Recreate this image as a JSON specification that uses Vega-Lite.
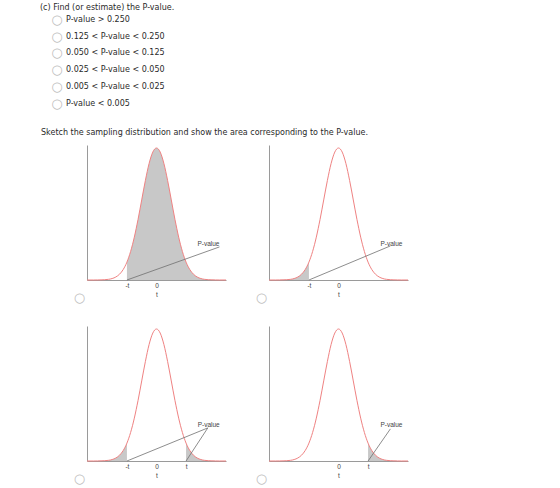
{
  "$schema": "https://vega.github.io/schema/vega-lite/v6.json",
  "background": "white",
  "padding": {"left": 40, "top": 0, "right": 5, "bottom": 0},
  "config": {"view": {"stroke": null}},
  "datasets": {
    "options": [
      {"kind": "question", "indent": 0, "line": 0.28, "text": "(c) Find (or estimate) the P-value."},
      {"kind": "option", "indent": 1, "line": 1, "text": "P-value > 0.250"},
      {"kind": "option", "indent": 1, "line": 2, "text": "0.125 < P-value < 0.250"},
      {"kind": "option", "indent": 1, "line": 3, "text": "0.050 < P-value < 0.125"},
      {"kind": "option", "indent": 1, "line": 4, "text": "0.025 < P-value < 0.050"},
      {"kind": "option", "indent": 1, "line": 5, "text": "0.005 < P-value < 0.025"},
      {"kind": "option", "indent": 1, "line": 6, "text": "P-value < 0.005"},
      {"kind": "instruction", "indent": 0.04, "line": 7.78, "text": "Sketch the sampling distribution and show the area corresponding to the P-value."}
    ],
    "curve": [
      {"z": -4.7, "density": 0.0000}, {"z": -4.5, "density": 0.0000}, {"z": -4.25, "density": 0.0000},
      {"z": -4.0, "density": 0.0001}, {"z": -3.75, "density": 0.0004}, {"z": -3.5, "density": 0.0009},
      {"z": -3.25, "density": 0.0020}, {"z": -3.0, "density": 0.0044}, {"z": -2.75, "density": 0.0091},
      {"z": -2.5, "density": 0.0175}, {"z": -2.25, "density": 0.0317}, {"z": -2.0, "density": 0.0540},
      {"z": -1.75, "density": 0.0863}, {"z": -1.5, "density": 0.1295}, {"z": -1.25, "density": 0.1826},
      {"z": -1.0, "density": 0.2420}, {"z": -0.75, "density": 0.3011}, {"z": -0.5, "density": 0.3521},
      {"z": -0.25, "density": 0.3867}, {"z": 0.0, "density": 0.3989}, {"z": 0.25, "density": 0.3867},
      {"z": 0.5, "density": 0.3521}, {"z": 0.75, "density": 0.3011}, {"z": 1.0, "density": 0.2420},
      {"z": 1.25, "density": 0.1826}, {"z": 1.5, "density": 0.1295}, {"z": 1.75, "density": 0.0863},
      {"z": 2.0, "density": 0.0540}, {"z": 2.25, "density": 0.0317}, {"z": 2.5, "density": 0.0175},
      {"z": 2.75, "density": 0.0091}, {"z": 3.0, "density": 0.0044}, {"z": 3.25, "density": 0.0020},
      {"z": 3.5, "density": 0.0009}, {"z": 3.75, "density": 0.0004}, {"z": 4.0, "density": 0.0001},
      {"z": 4.25, "density": 0.0000}, {"z": 4.5, "density": 0.0000}, {"z": 4.7, "density": 0.0000}
    ],
    "pointers": [
      {"panel": "A", "z": -2, "density": 0, "z2": 4.26, "density2": 0.100},
      {"panel": "B", "z": -2, "density": 0, "z2": 3.51, "density2": 0.103},
      {"panel": "C", "z": -2, "density": 0, "z2": 3.47, "density2": 0.100},
      {"panel": "C", "z": 2, "density": 0, "z2": 3.47, "density2": 0.100},
      {"panel": "D", "z": 2, "density": 0, "z2": 3.51, "density2": 0.097}
    ],
    "labels": [
      {"panel": "A", "z": 3.51, "density": 0.109, "text": "P-value"},
      {"panel": "B", "z": 3.58, "density": 0.109, "text": "P-value"},
      {"panel": "C", "z": 3.53, "density": 0.109, "text": "P-value"},
      {"panel": "D", "z": 3.58, "density": 0.109, "text": "P-value"}
    ]
  },
  "spacing": 5,
  "vconcat": [
    {
      "width": 100,
      "height": 140,
      "data": {"name": "options"},
      "encoding": {
        "x": {"field": "indent", "type": "quantitative", "scale": {"domain": [0, 1], "range": [-47, -21]}, "axis": null},
        "y": {"field": "line", "type": "quantitative", "scale": {"domain": [1, 6], "range": [20, 103.5]}, "axis": null}
      },
      "layer": [
        {
          "mark": {"type": "text", "align": "left", "baseline": "middle", "font": "DejaVu Sans", "fontSize": 8, "color": "#2a2a2a"},
          "encoding": {"text": {"field": "text"}}
        },
        {
          "transform": [{"filter": "datum.kind == 'option'"}],
          "mark": {"type": "text", "text": "○", "dx": -9, "align": "center", "baseline": "middle", "font": "DejaVu Sans", "fontSize": 13, "color": "#bdbdbd"},
          "encoding": {}
        }
      ]
    },
    {
      "columns": 2,
      "spacing": {"row": 22, "column": 27},
      "concat": [
        {
          "width": 139, "height": 135,
          "encoding": {
            "x": {"field": "z", "type": "quantitative", "scale": {"domain": [-4.7, 4.7], "nice": false, "zero": false},
              "axis": {"values": [-2, 0], "labelExpr": "datum.value < 0 ? '-t' : (datum.value > 0 ? 't' : '0')", "ticks": false, "grid": false, "domainColor": "#9a9a9a", "labelFont": "Liberation Sans", "labelFontSize": 6.5, "labelColor": "#444", "labelPadding": 2, "title": "t", "titleFont": "Liberation Sans", "titleFontSize": 6.5, "titleFontWeight": "normal", "titleColor": "#444", "titlePadding": 3}},
            "y": {"field": "density", "type": "quantitative", "scale": {"domain": [0, 0.408], "nice": false},
              "axis": {"ticks": false, "labels": false, "grid": false, "domainColor": "#9a9a9a", "title": "○", "titleAngle": 0, "titleX": -8, "titleY": 152, "titleAlign": "center", "titleBaseline": "middle", "titleFont": "DejaVu Sans", "titleFontSize": 13, "titleFontWeight": "normal", "titleColor": "#bdbdbd"}}
          },
          "layer": [
            {"data": {"name": "curve"}, "transform": [{"filter": "datum.z >= -2"}], "mark": {"type": "area", "interpolate": "monotone", "color": "#c8c8c8"}, "encoding": {}},
            {"data": {"name": "curve"}, "mark": {"type": "line", "interpolate": "monotone", "color": "#ef8282", "strokeWidth": 1}, "encoding": {}},
            {"data": {"name": "pointers"}, "transform": [{"filter": "datum.panel == 'A'"}], "mark": {"type": "rule", "color": "#707070", "strokeWidth": 0.8}, "encoding": {"x2": {"field": "z2"}, "y2": {"field": "density2"}}},
            {"data": {"name": "labels"}, "transform": [{"filter": "datum.panel == 'A'"}], "mark": {"type": "text", "font": "Liberation Sans", "fontSize": 6.5, "color": "#444"}, "encoding": {"text": {"field": "text"}}}
          ]
        },
        {
          "width": 139, "height": 135,
          "encoding": {
            "x": {"field": "z", "type": "quantitative", "scale": {"domain": [-4.7, 4.7], "nice": false, "zero": false},
              "axis": {"values": [-2, 0], "labelExpr": "datum.value < 0 ? '-t' : (datum.value > 0 ? 't' : '0')", "ticks": false, "grid": false, "domainColor": "#9a9a9a", "labelFont": "Liberation Sans", "labelFontSize": 6.5, "labelColor": "#444", "labelPadding": 2, "title": "t", "titleFont": "Liberation Sans", "titleFontSize": 6.5, "titleFontWeight": "normal", "titleColor": "#444", "titlePadding": 3}},
            "y": {"field": "density", "type": "quantitative", "scale": {"domain": [0, 0.408], "nice": false},
              "axis": {"ticks": false, "labels": false, "grid": false, "domainColor": "#9a9a9a", "title": "○", "titleAngle": 0, "titleX": -8, "titleY": 152, "titleAlign": "center", "titleBaseline": "middle", "titleFont": "DejaVu Sans", "titleFontSize": 13, "titleFontWeight": "normal", "titleColor": "#bdbdbd"}}
          },
          "layer": [
            {"data": {"name": "curve"}, "transform": [{"filter": "datum.z <= -2"}], "mark": {"type": "area", "interpolate": "monotone", "color": "#c8c8c8"}, "encoding": {}},
            {"data": {"name": "curve"}, "mark": {"type": "line", "interpolate": "monotone", "color": "#ef8282", "strokeWidth": 1}, "encoding": {}},
            {"data": {"name": "pointers"}, "transform": [{"filter": "datum.panel == 'B'"}], "mark": {"type": "rule", "color": "#707070", "strokeWidth": 0.8}, "encoding": {"x2": {"field": "z2"}, "y2": {"field": "density2"}}},
            {"data": {"name": "labels"}, "transform": [{"filter": "datum.panel == 'B'"}], "mark": {"type": "text", "font": "Liberation Sans", "fontSize": 6.5, "color": "#444"}, "encoding": {"text": {"field": "text"}}}
          ]
        },
        {
          "width": 139, "height": 135,
          "encoding": {
            "x": {"field": "z", "type": "quantitative", "scale": {"domain": [-4.7, 4.7], "nice": false, "zero": false},
              "axis": {"values": [-2, 0, 2], "labelExpr": "datum.value < 0 ? '-t' : (datum.value > 0 ? 't' : '0')", "ticks": false, "grid": false, "domainColor": "#9a9a9a", "labelFont": "Liberation Sans", "labelFontSize": 6.5, "labelColor": "#444", "labelPadding": 2, "title": "t", "titleFont": "Liberation Sans", "titleFontSize": 6.5, "titleFontWeight": "normal", "titleColor": "#444", "titlePadding": 3}},
            "y": {"field": "density", "type": "quantitative", "scale": {"domain": [0, 0.408], "nice": false},
              "axis": {"ticks": false, "labels": false, "grid": false, "domainColor": "#9a9a9a", "title": "○", "titleAngle": 0, "titleX": -8, "titleY": 152, "titleAlign": "center", "titleBaseline": "middle", "titleFont": "DejaVu Sans", "titleFontSize": 13, "titleFontWeight": "normal", "titleColor": "#bdbdbd"}}
          },
          "layer": [
            {"data": {"name": "curve"}, "transform": [{"filter": "datum.z <= -2"}], "mark": {"type": "area", "interpolate": "monotone", "color": "#c8c8c8"}, "encoding": {}},
            {"data": {"name": "curve"}, "transform": [{"filter": "datum.z >= 2"}], "mark": {"type": "area", "interpolate": "monotone", "color": "#c8c8c8"}, "encoding": {}},
            {"data": {"name": "curve"}, "mark": {"type": "line", "interpolate": "monotone", "color": "#ef8282", "strokeWidth": 1}, "encoding": {}},
            {"data": {"name": "pointers"}, "transform": [{"filter": "datum.panel == 'C'"}], "mark": {"type": "rule", "color": "#707070", "strokeWidth": 0.8}, "encoding": {"x2": {"field": "z2"}, "y2": {"field": "density2"}}},
            {"data": {"name": "labels"}, "transform": [{"filter": "datum.panel == 'C'"}], "mark": {"type": "text", "font": "Liberation Sans", "fontSize": 6.5, "color": "#444"}, "encoding": {"text": {"field": "text"}}}
          ]
        },
        {
          "width": 139, "height": 135,
          "encoding": {
            "x": {"field": "z", "type": "quantitative", "scale": {"domain": [-4.7, 4.7], "nice": false, "zero": false},
              "axis": {"values": [0, 2], "labelExpr": "datum.value < 0 ? '-t' : (datum.value > 0 ? 't' : '0')", "ticks": false, "grid": false, "domainColor": "#9a9a9a", "labelFont": "Liberation Sans", "labelFontSize": 6.5, "labelColor": "#444", "labelPadding": 2, "title": "t", "titleFont": "Liberation Sans", "titleFontSize": 6.5, "titleFontWeight": "normal", "titleColor": "#444", "titlePadding": 3}},
            "y": {"field": "density", "type": "quantitative", "scale": {"domain": [0, 0.408], "nice": false},
              "axis": {"ticks": false, "labels": false, "grid": false, "domainColor": "#9a9a9a", "title": "○", "titleAngle": 0, "titleX": -8, "titleY": 152, "titleAlign": "center", "titleBaseline": "middle", "titleFont": "DejaVu Sans", "titleFontSize": 13, "titleFontWeight": "normal", "titleColor": "#bdbdbd"}}
          },
          "layer": [
            {"data": {"name": "curve"}, "transform": [{"filter": "datum.z >= 2"}], "mark": {"type": "area", "interpolate": "monotone", "color": "#c8c8c8"}, "encoding": {}},
            {"data": {"name": "curve"}, "mark": {"type": "line", "interpolate": "monotone", "color": "#ef8282", "strokeWidth": 1}, "encoding": {}},
            {"data": {"name": "pointers"}, "transform": [{"filter": "datum.panel == 'D'"}], "mark": {"type": "rule", "color": "#707070", "strokeWidth": 0.8}, "encoding": {"x2": {"field": "z2"}, "y2": {"field": "density2"}}},
            {"data": {"name": "labels"}, "transform": [{"filter": "datum.panel == 'D'"}], "mark": {"type": "text", "font": "Liberation Sans", "fontSize": 6.5, "color": "#444"}, "encoding": {"text": {"field": "text"}}}
          ]
        }
      ]
    }
  ]
}
